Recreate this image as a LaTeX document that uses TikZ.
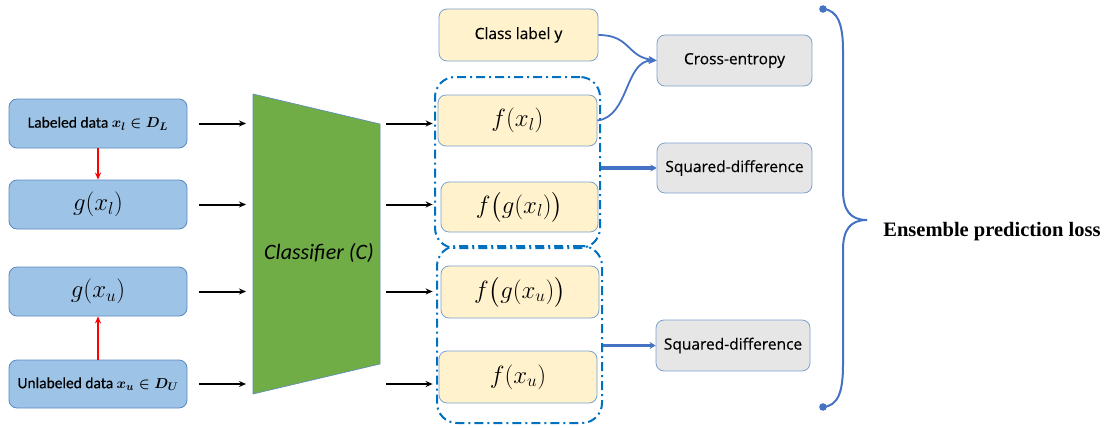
\documentclass[tikz,border=0pt]{standalone}
\usepackage{amsmath}
\usepackage{fontspec}
\usetikzlibrary{arrows.meta}
\newfontfamily\carl[FakeBold=0.4]{Carlito}
\newfontfamily\carli{Carlito}
\newfontfamily\osans[FakeBold=0.4]{Open Sans}
\newfontfamily\tbold{Liberation Serif}
\definecolor{lblue}{HTML}{9DC3E6}
\definecolor{bordb}{HTML}{5B8AC0}
\definecolor{ylw}{HTML}{FFF2CC}
\definecolor{gry}{HTML}{E7E6E6}
\definecolor{grn}{HTML}{70AD47}
\definecolor{bline}{HTML}{4472C4}
\definecolor{ddash}{HTML}{0070C0}
\begin{document}
\begin{tikzpicture}[x=1pt,y=-1pt,
  lbox/.style={draw=bordb, fill=lblue, rounded corners=8pt, line width=0.8pt, inner sep=0pt},
  ybox/.style={draw=bordb!80, fill=ylw, rounded corners=8pt, line width=0.8pt, inner sep=0pt},
  gbox/.style={draw=bordb!80, fill=gry, rounded corners=8pt, line width=0.8pt, inner sep=0pt},
  grp/.style={draw=ddash, rounded corners=20pt, line width=2pt, dash pattern=on 9pt off 4pt on 2pt off 4pt, inner sep=0pt},
  blk/.style={line width=2pt, -{Stealth[length=7pt,width=6pt]}},
  redar/.style={red, line width=1.8pt, -{Stealth[length=7pt,width=6pt]}},
  bar/.style={bline, line width=3.2pt, -{Stealth[length=6pt,width=7pt]}},
  bcurve/.style={bline, line width=1.8pt, -{Stealth[length=8pt,width=7pt]}},
  ltxt/.style={font=\carl\fontsize{15.5}{17}\selectfont},
  mtxt/.style={font=\fontsize{25}{27}\selectfont},
  rtxt/.style={font=\osans\fontsize{15.5}{17}\selectfont}
]
\useasboundingbox (0,0) rectangle (1108,428);

% left boxes
\node[lbox, ltxt, minimum width=178pt, minimum height=49pt] (l1) at (98,123.5) {Labeled data $\boldsymbol{x_l \in D_L}$};
\node[lbox, mtxt, minimum width=178pt, minimum height=49pt] (l2) at (98,204.5) {$g(x_l)$};
\node[lbox, mtxt, minimum width=178pt, minimum height=49pt] (l3) at (98,291.5) {$g(x_u)$};
\node[lbox, ltxt, minimum width=178pt, minimum height=48pt] (l4) at (98,384) {Unlabeled data $\boldsymbol{x_u \in D_U}$};

\draw[redar] (l1.south) -- (l2.north);
\draw[redar] (l4.north) -- (l3.south);

% classifier
\draw[fill=grn, draw=bordb, line width=0.6pt] (253,94) -- (380,124) -- (380,364) -- (253,394) -- cycle;
\coordinate (cl) at (253,244);
\coordinate (cr) at (380,244);
\node[font=\carli\itshape\fontsize{22}{24}\selectfont] (clf) at (319,253) {Classifier (C)};

\foreach \n in {l1,l2,l3,l4}{
  \draw[blk, shorten <=12pt, shorten >=7pt] (\n.east) -- (\n.east -| cl);
}

% groups
\node[grp, minimum width=165pt, minimum height=171pt] (g1) at (517.5,162.5) {};
\node[grp, minimum width=165pt, minimum height=177pt] (g2) at (519.5,334.5) {};

% yellow boxes
\node[ybox, rtxt, minimum width=159pt, minimum height=52pt] (cy) at (518.5,35) {Class label y};
\node[ybox, mtxt, minimum width=159pt, minimum height=51pt] (f1) at (517.5,120.5) {$f(x_l)$};
\node[ybox, mtxt, minimum width=157pt, minimum height=50pt] (f2) at (519.5,207) {$f\big(g(x_l)\big)$};
\node[ybox, mtxt, minimum width=158pt, minimum height=52pt] (f3) at (520,292) {$f\big(g(x_u)\big)$};
\node[ybox, mtxt, minimum width=158pt, minimum height=52pt] (f4) at (518,377) {$f(x_u)$};

\draw[blk, shorten <=6pt, shorten >=5pt] (l1 -| cr) -- (l1 -| f1.west);
\draw[blk, shorten <=6pt, shorten >=8pt] (l2 -| cr) -- (l2 -| f2.west);
\draw[blk, shorten <=6pt, shorten >=8pt] (l3 -| cr) -- (l3 -| f3.west);
\draw[blk, shorten <=6pt, shorten >=6pt] (l4 -| cr) -- (l4 -| f4.west);

% gray boxes
\node[gbox, rtxt, minimum width=155pt, minimum height=51pt] (ce) at (734.5,60.5) {Cross-entropy};
\node[gbox, rtxt, minimum width=155pt, minimum height=50pt] (sq1) at (734.5,168) {Squared-difference};
\node[gbox, rtxt, minimum width=154pt, minimum height=51pt] (sq2) at (733,345.5) {Squared-difference};

\draw[bcurve] (cy.east) .. controls +(32,0) and +(-30,-4) .. (ce.west);
\draw[bcurve] (f1.east) .. controls +(32,-4) and +(-32,0) .. (ce.west);

\draw[bar] (g1.east |- sq1.west) -- (sq1.west);
\draw[bar] (g2.east |- sq2.west) -- (sq2.west);

% brace
\draw[bline, line width=2pt] (823,9) .. controls (838,10) and (843,25) .. (843,50) -- (843,190)
  .. controls (843,210) and (850,220) .. (867,220)
  .. controls (850,220) and (843,230) .. (843,250) -- (843,365)
  .. controls (843,392) and (838,406) .. (823,407);
\fill[bline] (823,9) circle (3.8pt) (823,407) circle (3.8pt);
\node[font=\tbold\bfseries\fontsize{20.5}{23}\selectfont] (epl) at (992,232) {Ensemble prediction loss};
\end{tikzpicture}
\end{document}
